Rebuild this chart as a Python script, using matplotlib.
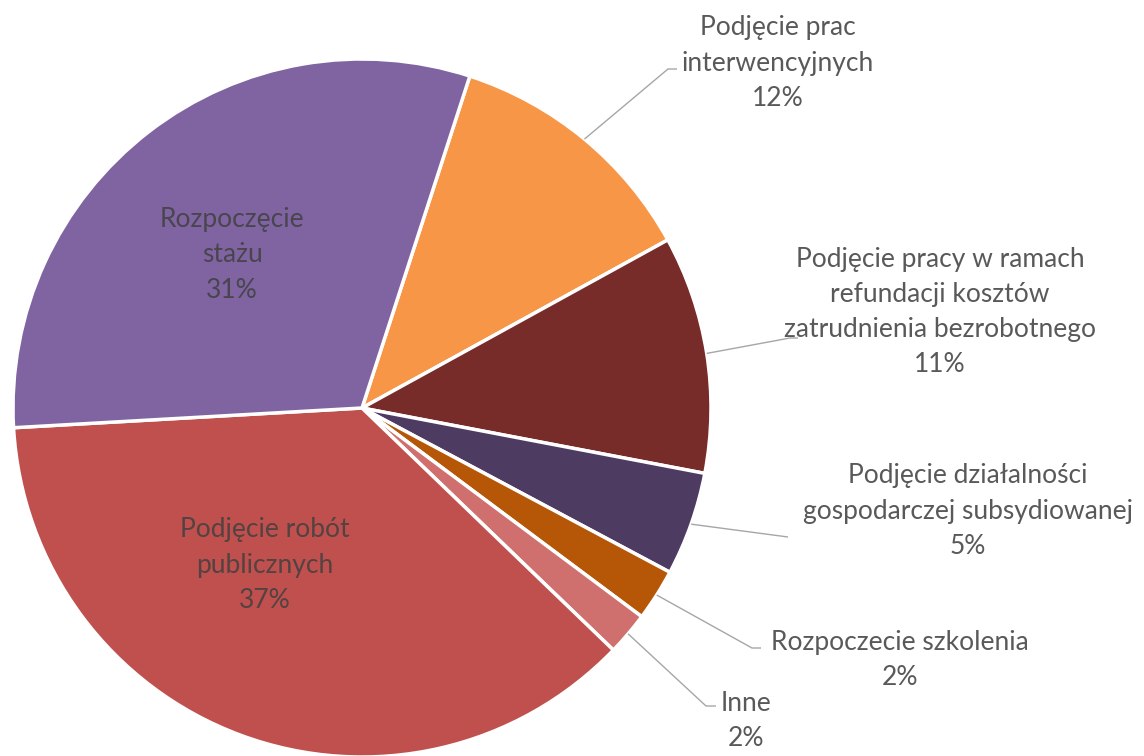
import numpy as np
import matplotlib
matplotlib.use("Agg")
import matplotlib.pyplot as plt

categories = [
    "Podjęcie prac\ninterwencyjnych",
    "Podjęcie pracy w ramach\nrefundacji kosztów\nzatrudnienia bezrobotnego",
    "Podjęcie działalności\ngospodarczej subsydiowanej",
    "Rozpoczecie szkolenia",
    "Inne",
    "Podjęcie robót\npublicznych",
    "Rozpoczęcie\nstażu",
]
values = [12.0, 11.0, 4.8, 2.4, 2.0, 36.9, 30.9]
pct_labels = ["12%", "11%", "5%", "2%", "2%", "37%", "31%"]
colors = ["#F79646", "#772C2A", "#4E3B62", "#B65708", "#D0706E", "#C0504D", "#8064A2"]

W, H = 1144, 756
plt.rcParams['font.family'] = ['Lato', 'DejaVu Sans']

fig = plt.figure(figsize=(W / 100, H / 100), dpi=100)
ax = fig.add_axes([0, 0, 1, 1])

def Y(y):
    return H - y

cx, cy, R = 362, Y(408), 349
wedges, _ = ax.pie(values, colors=colors, startangle=72, counterclock=False,
                   center=(cx, cy), radius=R,
                   wedgeprops=dict(edgecolor="white", linewidth=2.5))
ax.set_xlim(0, W)
ax.set_ylim(0, H)
ax.set_aspect("equal")
ax.axis("off")

fs = 19
ls = 1.5
tcol = "#595959"
lcol = "#A6A6A6"

# outside labels: (index, elbow x, elbow y, line end x, text center x, text center y)
outside = [
    (0, 668, 69, 677, 778, 63),
    (1, 790, 338, 798, 940, 312),
    (2, 788, 537, 788, 968, 511),
    (3, 752, 648, 761, 900, 660),
    (4, 706, 706, 716, 746, 721),
]
for i, ex, ey, lx, tx, ty in outside:
    w = wedges[i]
    th = np.deg2rad((w.theta1 + w.theta2) / 2)
    sx, sy = cx + R * np.cos(th), cy + R * np.sin(th)
    ax.plot([sx, ex, lx], [sy, Y(ey), Y(ey)], color=lcol, lw=1.0, solid_capstyle="butt")
    ax.text(tx, Y(ty), categories[i] + "\n" + pct_labels[i], ha="center", va="center",
            fontsize=fs, color=tcol, linespacing=ls)

# inside labels
inside = [(6, 232, 255), (5, 265, 565)]
for i, tx, ty in inside:
    ax.text(tx, Y(ty), categories[i] + "\n" + pct_labels[i], ha="center", va="center",
            fontsize=fs, color="#404040", alpha=0.85, linespacing=ls)

fig.savefig("out.png", dpi=100)
